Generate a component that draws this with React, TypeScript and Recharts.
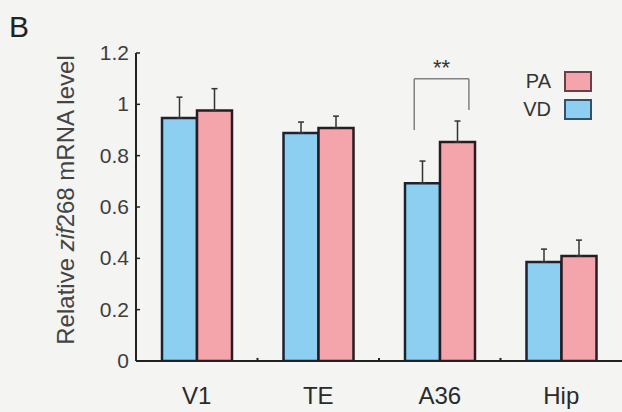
import { BarChart, Bar, XAxis, YAxis, ErrorBar, Legend, ReferenceLine } from "recharts";

// relative zif268 mRNA level per region (mean, upper SEM)
const regions = ["V1", "TE", "A36", "Hip"];
const vdMean = [0.947, 0.888, 0.693, 0.386];
const vdSem = [0.081, 0.043, 0.086, 0.05];
const paMean = [0.976, 0.908, 0.853, 0.409];
const paSem = [0.085, 0.046, 0.082, 0.062];
const yTicks = [0, 0.2, 0.4, 0.6, 0.8, 1, 1.2];

// significance bracket over A36, on a 0..4 band scale
const bracketX = [2.29, 2.74];
const bracketTop = 1.1;
const bracketLegs = [0.9, 0.978];
const boundaries = [1, 2, 3];

const BLUE = "#8dcff0";
const PINK = "#f4a5ac";
const FONT = "'Liberation Sans', Arial, sans-serif";

const data = regions.map((region, i) => ({
  region,
  slot: i + 0.5,
  VD: vdMean[i],
  PA: paMean[i],
  vdErr: [0, vdSem[i]],
  paErr: [0, paSem[i]],
}));

const legendItems = [
  { name: "PA", fill: PINK, border: "#6a4048" },
  { name: "VD", fill: BLUE, border: "#34506a" },
];

const LegendBox = () => (
  <div style={{ fontFamily: FONT }}>
    {legendItems.map((it) => (
      <div
        key={it.name}
        style={{ display: "flex", justifyContent: "flex-end", alignItems: "center", height: 28 }}
      >
        <span style={{ fontSize: 20, color: "#333", marginRight: 13 }}>{it.name}</span>
        <span
          style={{
            width: 28,
            height: 21,
            background: it.fill,
            border: `2px solid ${it.border}`,
            boxSizing: "border-box",
          }}
        />
      </div>
    ))}
  </div>
);

const YTick = (props: any) => {
  const { x, y, payload } = props;
  return (
    <g>
      <line x1={x + 7} x2={x + 11} y1={y} y2={y} stroke="#222" strokeWidth={1.5} />
      <text x={x} y={y} dy={7} textAnchor="end" fill="#3d3d3d" fontSize={21} fontFamily={FONT}>
        {payload.value}
      </text>
    </g>
  );
};

const YLabel = (props: any) => {
  const vb = props.viewBox;
  const cx = vb.x + 74;
  const cy = vb.y + vb.height / 2 - 7;
  return (
    <text
      x={cx}
      y={cy}
      transform={`rotate(-90, ${cx}, ${cy})`}
      textAnchor="middle"
      fill="#444"
      fontSize={24}
      fontFamily={FONT}
    >
      Relative <tspan fontStyle="italic">zif</tspan>268 mRNA level
    </text>
  );
};

const App = () => {
  return (
    <div style={{ position: "absolute", left: 0, top: 0, width: 622, height: 412, background: "#f4f4f2" }}>
      <div
        style={{
          position: "absolute",
          left: 9,
          top: 10,
          fontFamily: FONT,
          fontSize: 30,
          color: "#222",
          lineHeight: "34px",
        }}
      >
        B
      </div>
      <BarChart
        width={622}
        height={412}
        data={data}
        margin={{ top: 53, right: 0, bottom: 0, left: 0 }}
        barSize={35}
        barGap={0}
      >
        <XAxis
          dataKey="region"
          height={51}
          axisLine={{ stroke: "#222", strokeWidth: 2 }}
          tickLine={false}
          tickSize={0}
          tickMargin={26}
          tick={{ fill: "#2a2a2a", fontSize: 24, fontFamily: FONT }}
        />
        <XAxis
          xAxisId="band"
          dataKey="slot"
          type="number"
          domain={[0, 4]}
          ticks={[0, 1, 2, 3, 4]}
          allowDataOverflow
          hide
        />
        <YAxis
          width={136}
          domain={[0, 1.2]}
          ticks={yTicks}
          allowDataOverflow
          axisLine={{ stroke: "#222", strokeWidth: 2 }}
          tickLine={false}
          tickSize={0}
          tickMargin={7}
          tick={<YTick />}
          label={YLabel}
        />
        <Legend
          layout="vertical"
          align="center"
          verticalAlign="middle"
          content={<LegendBox />}
          wrapperStyle={{ top: 67, left: 500, width: 92 }}
        />
        <Bar dataKey="VD" fill={BLUE} stroke="#1c2230" strokeWidth={2.5} isAnimationActive={false}>
          <ErrorBar dataKey="vdErr" width={3} stroke="#333" strokeWidth={1.5} direction="y" />
        </Bar>
        <Bar dataKey="PA" fill={PINK} stroke="#281c22" strokeWidth={2.5} isAnimationActive={false}>
          <ErrorBar dataKey="paErr" width={3} stroke="#333" strokeWidth={1.5} direction="y" />
        </Bar>
        {boundaries.map((b) => (
          <ReferenceLine
            key={b}
            xAxisId="band"
            segment={[
              { x: b, y: 0 },
              { x: b, y: 0.012 },
            ]}
            stroke="#222"
            strokeWidth={2}
          />
        ))}
        <ReferenceLine
          xAxisId="band"
          segment={[
            { x: bracketX[0], y: bracketTop },
            { x: bracketX[1], y: bracketTop },
          ]}
          stroke="#808080"
          strokeWidth={1.5}
          label={{ value: "**", position: "top", fill: "#333", fontSize: 22, fontFamily: FONT, offset: 4 }}
        />
        <ReferenceLine
          xAxisId="band"
          segment={[
            { x: bracketX[0], y: bracketLegs[0] },
            { x: bracketX[0], y: bracketTop },
          ]}
          stroke="#808080"
          strokeWidth={1.5}
        />
        <ReferenceLine
          xAxisId="band"
          segment={[
            { x: bracketX[1], y: bracketLegs[1] },
            { x: bracketX[1], y: bracketTop },
          ]}
          stroke="#808080"
          strokeWidth={1.5}
        />
      </BarChart>
    </div>
  );
};

export default App;
